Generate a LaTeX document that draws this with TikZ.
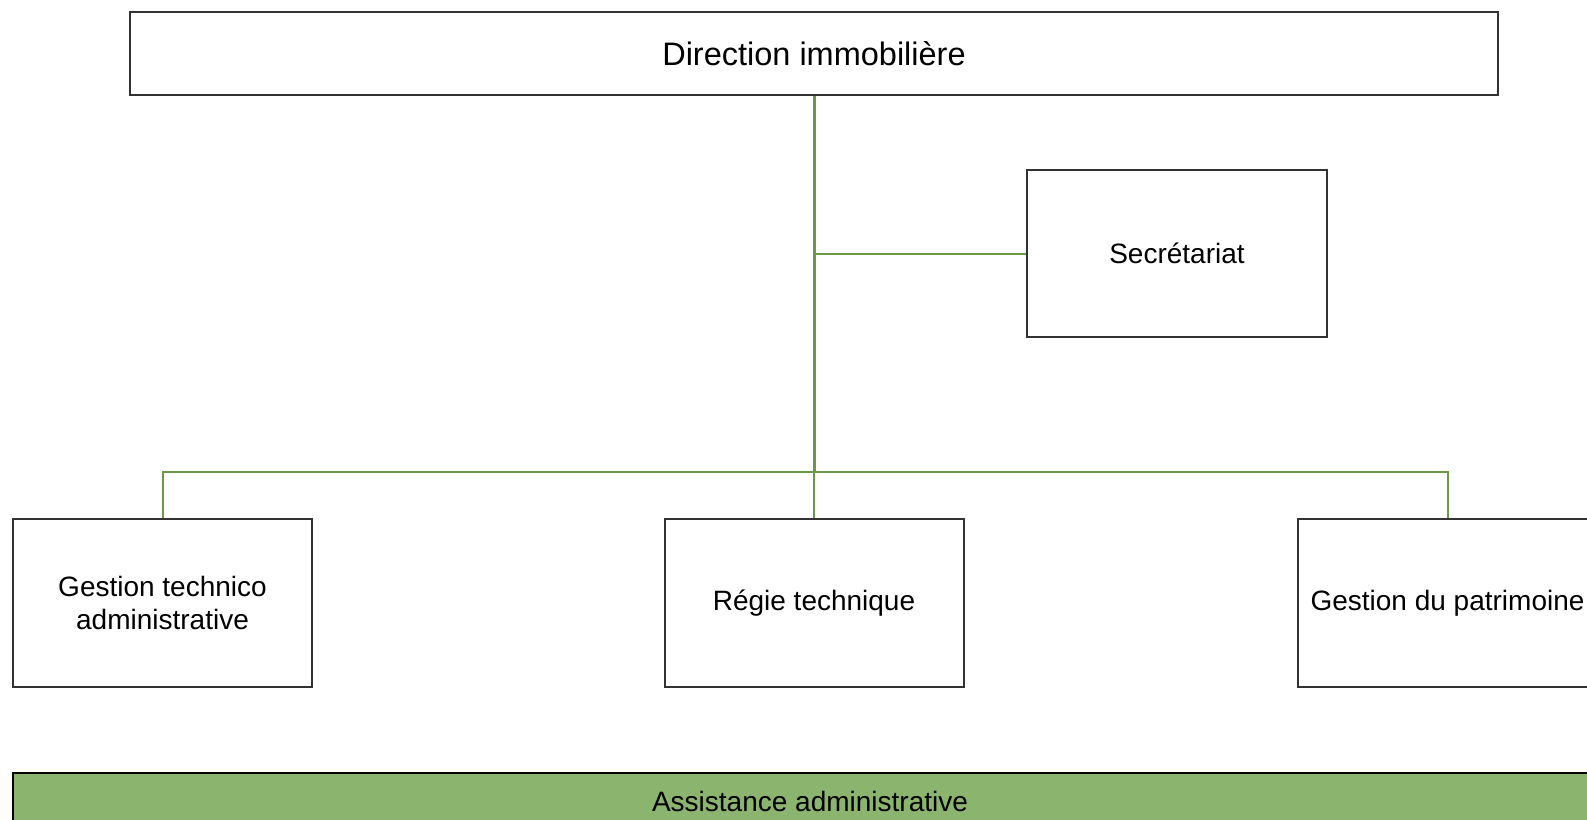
\documentclass[tikz,border=0pt]{standalone}
\usepackage{fontspec}
\setmainfont{Liberation Sans}
\usetikzlibrary{positioning}
\definecolor{orgline}{RGB}{106,153,74}
\definecolor{orgfill}{RGB}{139,180,110}
\tikzset{unit/.style={draw=black!80,line width=2pt,fill=white,align=center,inner sep=0pt,font=\fontsize{28}{33}\selectfont}}
\tikzset{headunit/.style={unit,minimum width=1368pt,minimum height=83pt,font=\fontsize{32.5}{38}\selectfont}}
\tikzset{subunit/.style={unit,minimum width=299pt,minimum height=168pt}}
\tikzset{trunk/.style={draw=orgline,line width=3pt}}
\tikzset{branch/.style={draw=orgline,line width=2pt}}

\begin{document}
\begin{tikzpicture}[x=1pt,y=-1pt]
        \useasboundingbox (0,0) rectangle (1587,819);
        \clip (0,0) rectangle (1587,819);

        \node[headunit] (dir) at (814,53.5) {Direction immobilière};
        \node[unit,minimum width=300pt,minimum height=167pt] (sec) at (1177,253.5) {Secrétariat};

        \node[subunit] (gta) at (162.5,603) {Gestion technico\\administrative};
        \node[subunit] (regie) at (814,603) {Régie technique};
        \node[subunit] (gdp) at (1447.5,603) {Gestion du patrimoine};

        \node[unit,draw=black,line width=2.5pt,fill=orgfill,minimum width=1594pt,minimum height=56pt] (assist) at (810,801) {Assistance administrative};

        \coordinate (bus) at (dir.south |- 0,472);
        \coordinate (secjoin) at (dir.south |- sec.west);

        \draw[trunk] (dir.south) -- (bus);
        \draw[branch] (secjoin) -- (sec.west);
        \draw[branch] (bus) -- (regie.north);
        \draw[branch] (gta.north) |- (bus) -| (gdp.north);
    \end{tikzpicture}
\end{document}
